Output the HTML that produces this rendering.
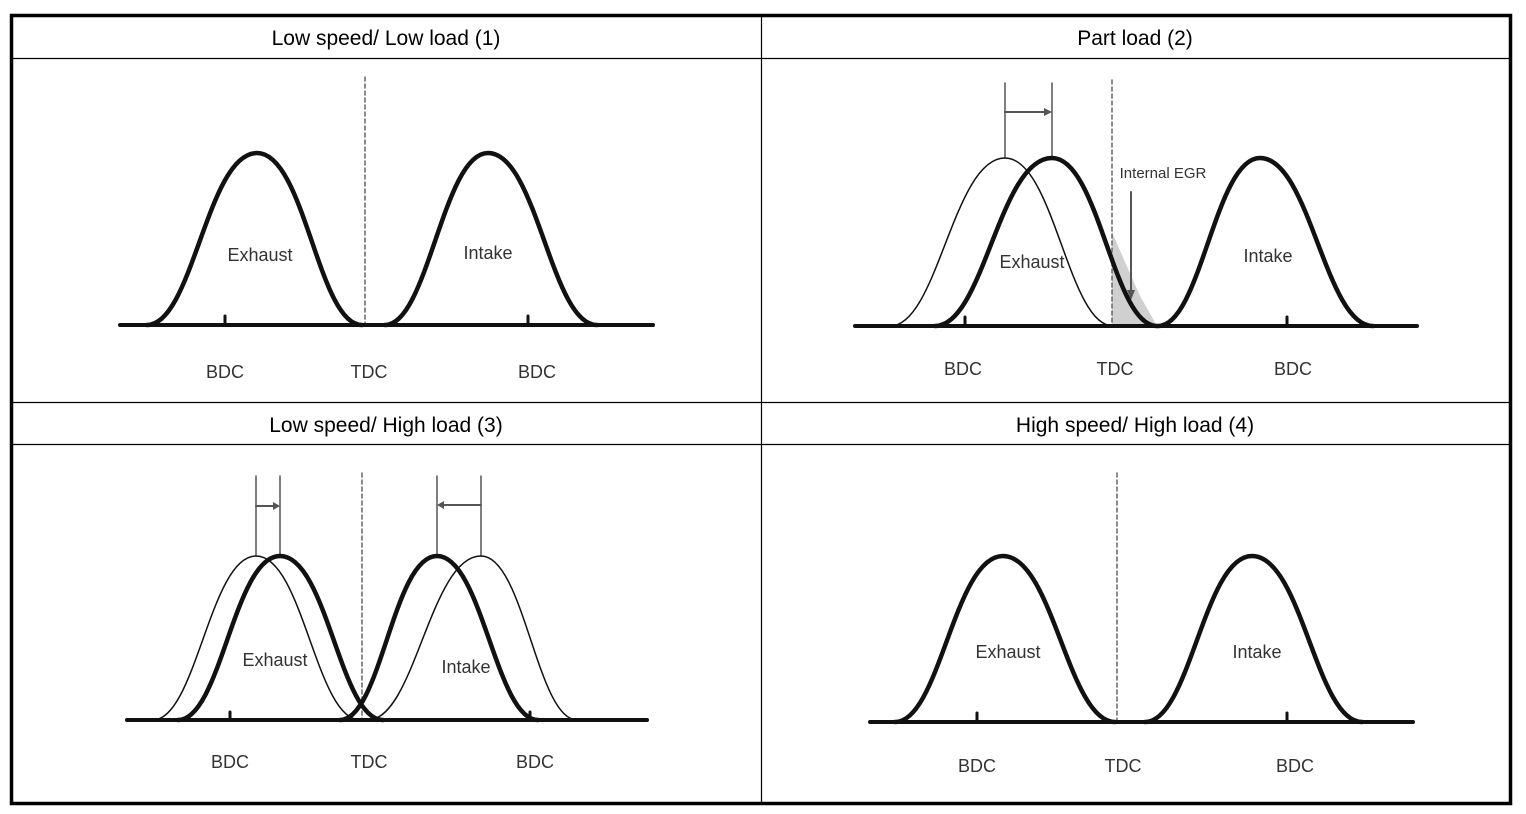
<!DOCTYPE html>
<html><head><meta charset="utf-8"><style>
html,body{margin:0;padding:0;background:#fff}
svg{display:block}
text{font-family:"Liberation Sans",Arial,sans-serif}
</style></head><body>
<svg width="1526" height="814" viewBox="0 0 1526 814" xmlns="http://www.w3.org/2000/svg">
<rect x="0" y="0" width="1526" height="814" fill="#fff"/>
<rect x="11.5" y="15.5" width="1499" height="788" fill="none" stroke="#000" stroke-width="3.5"/>
<line x1="11" y1="58.5" x2="1511" y2="58.5" stroke="#000" stroke-width="1.2"/>
<line x1="11" y1="402.5" x2="1511" y2="402.5" stroke="#000" stroke-width="1.2"/>
<line x1="11" y1="444.5" x2="1511" y2="444.5" stroke="#000" stroke-width="1.2"/>
<line x1="761.5" y1="16" x2="761.5" y2="804" stroke="#000" stroke-width="1.2"/>
<g font-size="21" fill="#000" text-anchor="middle">
<text x="386" y="45">Low speed/ Low load (1)</text>
<text x="1135" y="45">Part load (2)</text>
<text x="386" y="432">Low speed/ High load (3)</text>
<text x="1135" y="432">High speed/ High load (4)</text>
</g>

<g fill="none" stroke="#111" stroke-linecap="round">
<!-- Panel 1 -->
<line x1="365" y1="77" x2="365" y2="325" stroke="#666" stroke-width="1.5" stroke-dasharray="4,3"/>
<path d="M147,325 C193,325 207,153 257,153 C305,153 318,325 362,325" stroke-width="4.5"/>
<path d="M385,325 C428,325 443,153 488,153 C537,153 551,325 597,325" stroke-width="4.5"/>
<line x1="120" y1="325" x2="653" y2="325" stroke-width="4"/>
<line x1="225" y1="316" x2="225" y2="325" stroke-width="3"/>
<line x1="528" y1="316" x2="528" y2="325" stroke-width="3"/>

<!-- Panel 2 -->
<polygon points="1112,326 1112,232 1125,262 1140,296 1157,326" fill="#d0d0d0" stroke="none"/>
<line x1="1112" y1="80" x2="1112" y2="326" stroke="#666" stroke-width="1.5" stroke-dasharray="4,3"/>
<line x1="1005" y1="83" x2="1005" y2="158" stroke="#555" stroke-width="1.5"/>
<line x1="1052" y1="83" x2="1052" y2="158" stroke="#555" stroke-width="1.5"/>
<line x1="1005" y1="112" x2="1046" y2="112" stroke="#555" stroke-width="2"/>
<polygon points="1052,112 1044,108 1044,116" fill="#555" stroke="none"/>
<line x1="1131" y1="192" x2="1131" y2="292" stroke="#555" stroke-width="2"/>
<polygon points="1131,300 1127,290 1135,290" fill="#555" stroke="none"/>
<path d="M890,326 C938,326 953,158 1005,158 C1054,158 1068,326 1113,326" stroke-width="1.5"/>
<path d="M935,326 C984,326 999,158 1052,158 C1099,158 1113,326 1157,326" stroke-width="4.5"/>
<path d="M1158,326 C1201,326 1215,158 1260,158 C1310,158 1325,326 1373,326" stroke-width="4.5"/>
<line x1="855" y1="326" x2="1417" y2="326" stroke-width="4"/>
<line x1="965" y1="317" x2="965" y2="326" stroke-width="3"/>
<line x1="1287" y1="317" x2="1287" y2="326" stroke-width="3"/>

<!-- Panel 3 -->
<line x1="362" y1="473" x2="362" y2="720" stroke="#666" stroke-width="1.5" stroke-dasharray="4,3"/>
<line x1="256" y1="476" x2="256" y2="556" stroke="#555" stroke-width="1.5"/>
<line x1="280" y1="476" x2="280" y2="556" stroke="#555" stroke-width="1.5"/>
<line x1="256" y1="506" x2="274" y2="506" stroke="#555" stroke-width="2"/>
<polygon points="280,506 273,502 273,510" fill="#555" stroke="none"/>
<line x1="437" y1="476" x2="437" y2="556" stroke="#555" stroke-width="1.5"/>
<line x1="481" y1="476" x2="481" y2="556" stroke="#555" stroke-width="1.5"/>
<line x1="443" y1="505" x2="481" y2="505" stroke="#555" stroke-width="2"/>
<polygon points="437,505 444,501 444,509" fill="#555" stroke="none"/>
<path d="M153,720 C196,720 210,556 256,556 C303,556 316,720 360,720" stroke-width="1.5"/>
<path d="M178,720 C221,720 234,556 280,556 C327,556 340,720 383,720" stroke-width="4.5"/>
<path d="M340,720 C381,720 393,556 437,556 C482,556 496,720 538,720" stroke-width="4.5"/>
<path d="M368,720 C415,720 430,556 481,556 C524,556 537,720 577,720" stroke-width="1.5"/>
<line x1="127" y1="720" x2="647" y2="720" stroke-width="4"/>
<line x1="230" y1="712" x2="230" y2="720" stroke-width="3"/>
<line x1="530" y1="712" x2="530" y2="720" stroke-width="3"/>

<!-- Panel 4 -->
<line x1="1117" y1="473" x2="1117" y2="722" stroke="#666" stroke-width="1.5" stroke-dasharray="4,3"/>
<path d="M895,722 C940,722 954,556 1003,556 C1053,556 1068,722 1115,722" stroke-width="4.5"/>
<path d="M1145,722 C1190,722 1204,556 1252,556 C1302,556 1316,722 1362,722" stroke-width="4.5"/>
<line x1="870" y1="722" x2="1413" y2="722" stroke-width="4"/>
<line x1="977" y1="713" x2="977" y2="722" stroke-width="3"/>
<line x1="1287" y1="713" x2="1287" y2="722" stroke-width="3"/>
</g>

<g font-size="18" fill="#333" text-anchor="middle">
<text x="260" y="261">Exhaust</text>
<text x="488" y="259">Intake</text>
<text x="225" y="378">BDC</text>
<text x="369" y="378">TDC</text>
<text x="537" y="378">BDC</text>

<text x="1032" y="268">Exhaust</text>
<text x="1268" y="262">Intake</text>
<text x="1163" y="178" font-size="15">Internal EGR</text>
<text x="963" y="375">BDC</text>
<text x="1115" y="375">TDC</text>
<text x="1293" y="375">BDC</text>

<text x="275" y="666">Exhaust</text>
<text x="466" y="673">Intake</text>
<text x="230" y="768">BDC</text>
<text x="369" y="768">TDC</text>
<text x="535" y="768">BDC</text>

<text x="1008" y="658">Exhaust</text>
<text x="1257" y="658">Intake</text>
<text x="977" y="772">BDC</text>
<text x="1123" y="772">TDC</text>
<text x="1295" y="772">BDC</text>
</g>
</svg>
</body></html>
